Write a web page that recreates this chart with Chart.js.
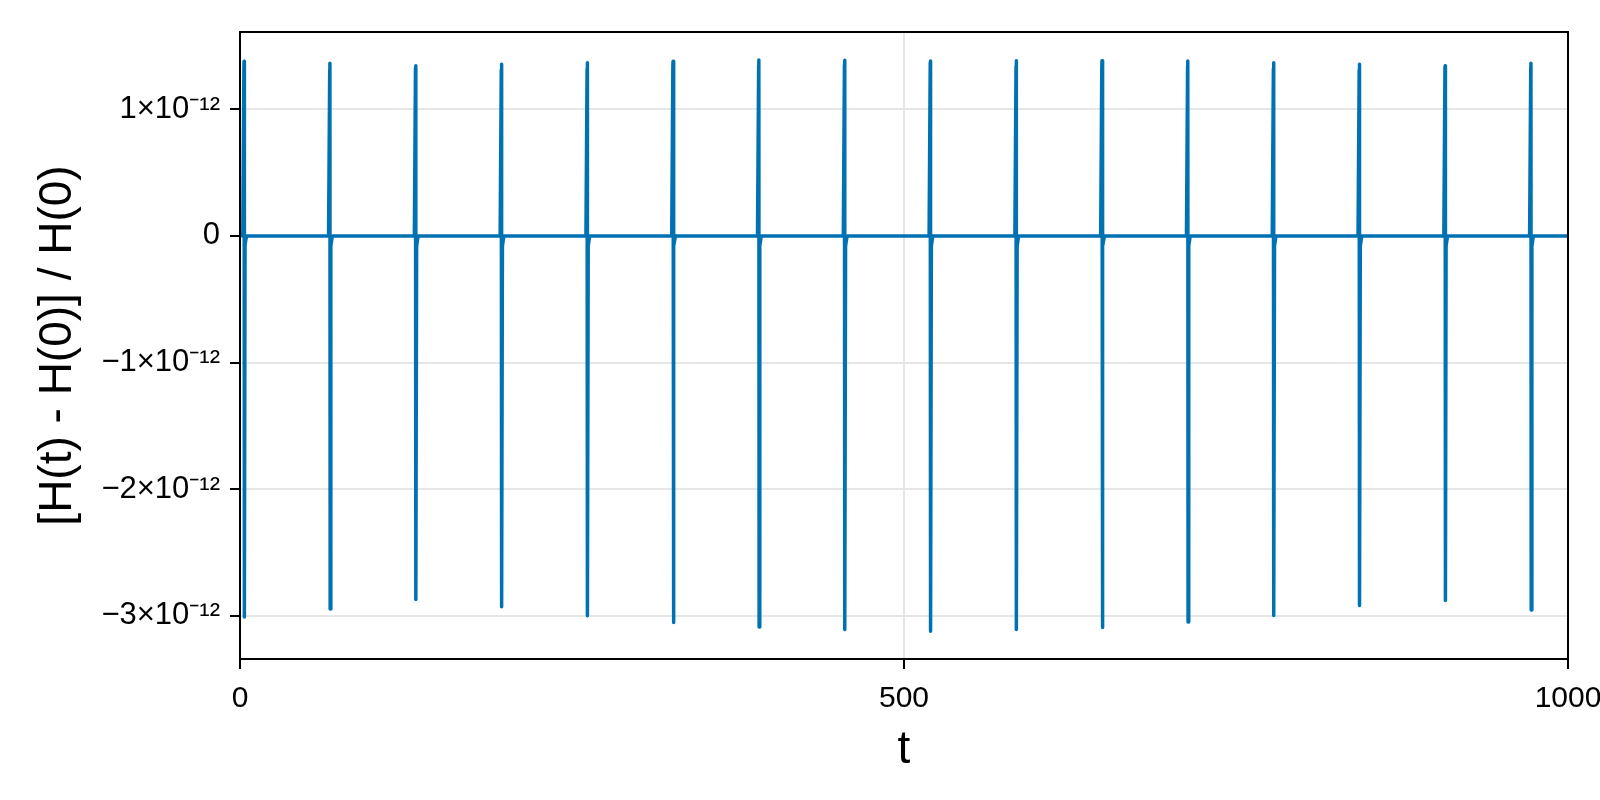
<!DOCTYPE html>
<html><head><meta charset="utf-8">
<script src="https://cdn.jsdelivr.net/npm/chart.js@4.4.1/dist/chart.umd.min.js"></script>
<style>html,body{margin:0;padding:0;background:#fff}canvas{display:block}</style>
</head><body>
<canvas id="c" width="1600" height="800"></canvas>
<script>
// ---- data ----
const spikeTimes = [3.3, 67.9, 132.5, 197.1, 261.7, 326.3, 390.9, 455.5, 520.1, 584.7, 649.3, 713.9, 778.5, 843.1, 907.7, 972.3];
const spikeMax  = [1.380e-12, 1.363e-12, 1.344e-12, 1.355e-12, 1.368e-12, 1.379e-12, 1.389e-12, 1.387e-12, 1.381e-12, 1.384e-12, 1.384e-12, 1.381e-12, 1.368e-12, 1.355e-12, 1.344e-12, 1.363e-12];
const spikeMax2 = [1.336e-12, 1.310e-12, 1.330e-12, 1.310e-12, 1.318e-12, 1.340e-12, 1.350e-12, 1.350e-12, 1.370e-12, 1.340e-12, 1.340e-12, 1.340e-12, 1.320e-12, 1.310e-12, 1.330e-12, 1.330e-12];
const spikeMin  = [-3.009e-12, -2.946e-12, -2.870e-12, -2.928e-12, -2.999e-12, -3.052e-12, -3.088e-12, -3.107e-12, -3.120e-12, -3.107e-12, -3.091e-12, -3.047e-12, -2.997e-12, -2.918e-12, -2.878e-12, -2.954e-12];
const spikeDip  = [-0.07e-12, -0.08e-12, -0.08e-12, -0.08e-12, -0.08e-12, -0.08e-12, -0.08e-12, -0.08e-12, -0.08e-12, -0.08e-12, -0.08e-12, -0.08e-12, -0.08e-12, -0.08e-12, -0.08e-12, -0.08e-12];
const baselineTimes  = [0, 1000];
const baselineValues = [0.005e-12, 0];
const spikeOffsets = [-1.2, -0.35, -0.2, 0, 0.5, 1.6]; // t-offsets of the points forming one spike

const xTickValues = [0, 500, 1000];
const xTickLabels = ['0', '500', '1000'];
const yTickValues = [-3e-12, -2e-12, -1e-12, 0, 1e-12];
const yTickLabels = ['\u22123\u00d710\u207b\u00b9\u00b2', '\u22122\u00d710\u207b\u00b9\u00b2', '\u22121\u00d710\u207b\u00b9\u00b2', '0', '1\u00d710\u207b\u00b9\u00b2'];

// ---- build the point list ----
const points = [];
points.push({x: baselineTimes[0], y: baselineValues[0]});
spikeTimes.forEach((t, i) => {
  const vals = [0, spikeMax2[i], spikeMax[i], spikeMin[i], spikeDip[i], 0];
  spikeOffsets.forEach((o, k) => points.push({x: t + o, y: vals[k]}));
});
points.push({x: baselineTimes[1], y: baselineValues[1]});
points.sort((a, b) => a.x - b.x);

const LEFT = 240, TOP = 32, RIGHT = 1568, BOTTOM = 659;

const framePlugin = {
  id: 'frame',
  afterDraw(chart) {
    const {ctx, chartArea: a} = chart;
    ctx.save();
    ctx.strokeStyle = '#000';
    ctx.lineWidth = 2;
    ctx.strokeRect(a.left, a.top, a.right - a.left, a.bottom - a.top);
    ctx.restore();
  }
};

const tickFont = {family: "'Liberation Sans', Arial, sans-serif", size: 30};
const yTickFont = {family: "'Liberation Sans', Arial, sans-serif", size: 31};
const titleFont = {family: "'Liberation Sans', Arial, sans-serif", size: 46};

new Chart(document.getElementById('c'), {
  type: 'line',
  data: {
    datasets: [{
      data: points,
      borderColor: '#0072b2',
      borderWidth: 3.5,
      borderJoinStyle: 'round',
      borderCapStyle: 'butt',
      pointRadius: 0,
      tension: 0,
      fill: false
    }]
  },
  options: {
    responsive: false,
    animation: false,
    devicePixelRatio: 1,
    layout: {padding: {left: 0, top: TOP, right: 1600 - RIGHT, bottom: 0}},
    plugins: {legend: {display: false}, tooltip: {enabled: false}},
    scales: {
      x: {
        type: 'linear',
        min: 0, max: 1000,
        afterBuildTicks: s => { s.ticks = xTickValues.map(v => ({value: v})); },
        afterFit: s => { s.height = 800 - BOTTOM; s.paddingLeft = 0; s.paddingRight = 0; },
        ticks: {
          callback: (v, i) => xTickLabels[i],
          font: tickFont, color: '#000', padding: 12, maxRotation: 0, autoSkip: false
        },
        grid: {color: '#e6e6e6', lineWidth: 2, drawTicks: true, tickLength: 10, tickWidth: 2, tickColor: '#000'},
        border: {display: false},
        title: {display: true, text: 't', font: titleFont, color: '#000', padding: {top: 0, bottom: 22}}
      },
      y: {
        type: 'linear',
        min: -3.34e-12, max: 1.61e-12,
        afterBuildTicks: s => { s.ticks = yTickValues.map(v => ({value: v})); },
        afterFit: s => { s.width = LEFT; s.paddingTop = 0; s.paddingBottom = 0; },
        ticks: {
          callback: (v, i) => yTickLabels[i],
          font: yTickFont, color: '#000', padding: 10, autoSkip: false
        },
        grid: {color: '#e6e6e6', lineWidth: 2, drawTicks: true, tickLength: 10, tickWidth: 2, tickColor: '#000'},
        border: {display: false},
        title: {display: true, text: '[H(t) - H(0)] / H(0)', font: titleFont, color: '#000', padding: {top: 31, bottom: 0}}
      }
    }
  },
  plugins: [framePlugin]
});
</script>
</body></html>
